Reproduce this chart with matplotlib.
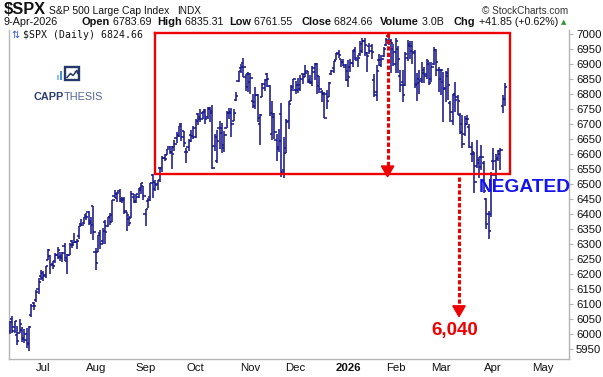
import matplotlib
matplotlib.use("Agg")
import matplotlib.pyplot as plt
import numpy as np
import pandas as pd
from matplotlib.collections import LineCollection
from matplotlib.patches import Rectangle, Polygon

# ---------------- data ----------------
holidays = ["2025-06-19", "2025-07-04", "2025-09-01", "2025-11-27", "2025-12-25",
            "2026-01-01", "2026-01-19", "2026-02-16", "2026-04-03"]

opens = [6009, 6049, 6010, 5997, 6005, 6012, 5987, 5999, 5970, 6062, 6105, 6112, 6151, 6194,
         6187, 6193, 6247, 6260, 6235, 6243, 6263, 6256, 6255, 6295, 6255, 6264, 6311, 6304, 6307, 6326, 6368, 6370, 6397, 6406, 6377, 6428,
         6272, 6272, 6336, 6309, 6375, 6359, 6389, 6398, 6461, 6454, 6478, 6445, 6446, 6407, 6384, 6387, 6458, 6445, 6457, 6486, 6492,
         6401, 6445, 6456, 6529, 6506, 6499, 6552, 6553, 6588, 6597, 6624, 6608, 6622, 6653, 6661, 6701, 6675, 6608, 6622, 6662, 6661,
         6656, 6732, 6722, 6735, 6746, 6723, 6751, 6744, 6626, 6578, 6686, 6687, 6619, 6687, 6737, 6740, 6711, 6780, 6842, 6886, 6904, 6858, 6868,
         6866, 6776, 6760, 6795, 6699, 6790, 6819, 6867, 6825, 6666, 6722, 6648, 6623, 6732, 6545, 6619, 6711, 6778, 6823,
         6813, 6830, 6816, 6866, 6867, 6876, 6841, 6837, 6873, 6900, 6859, 6805, 6803, 6801, 6791, 6865, 6885, 6914, 6935, 6916, 6908, 6889,
         6878, 6891, 6904, 6946, 6913, 6932, 6943, 6975, 6937, 6960, 6960, 6848, 6807, 6914, 6898, 6926, 6963, 6993, 6978, 6949,
         6900, 6950, 6860, 6840, 6830, 6920, 6960, 6960, 6935, 6830, 6850, 6850, 6870, 6865, 6900, 6850, 6900, 6945, 6880,
         6850, 6840, 6820, 6860, 6770, 6710, 6800, 6790, 6730, 6700, 6665, 6715, 6690, 6600, 6600, 6560, 6570, 6590, 6570, 6450, 6400, 6400,
         6575, 6530, 6585, 6600, 6760, 6783.69]
highs = [6043, 6059, 6045, 6026, 6051, 6024, 6018, 6019, 6026, 6101, 6108, 6146, 6187, 6215,
         6210, 6227, 6285, 6263, 6242, 6269, 6290, 6272, 6273, 6302, 6268, 6304, 6315, 6336, 6316, 6360, 6382, 6389, 6402, 6410, 6391, 6428,
         6288, 6330, 6346, 6352, 6379, 6390, 6402, 6446, 6481, 6473, 6482, 6458, 6456, 6407, 6394, 6478, 6467, 6467, 6488, 6503, 6494,
         6417, 6455, 6502, 6533, 6512, 6513, 6555, 6593, 6601, 6616, 6627, 6626, 6645, 6672, 6694, 6703, 6676, 6619, 6650, 6679, 6692,
         6718, 6737, 6750, 6744, 6749, 6756, 6756, 6764, 6665, 6680, 6711, 6704, 6677, 6744, 6752, 6752, 6750, 6807, 6877, 6899, 6920, 6867, 6872,
         6869, 6800, 6822, 6799, 6734, 6838, 6849, 6870, 6829, 6775, 6737, 6665, 6683, 6771, 6655, 6715, 6777, 6829, 6850,
         6844, 6852, 6862, 6867, 6895, 6878, 6862, 6893, 6903, 6902, 6860, 6814, 6807, 6812, 6841, 6881, 6910, 6935, 6945, 6917, 6917, 6901,
         6912, 6917, 6946, 6955, 6930, 6978, 6986, 6985, 6941, 6971, 6967, 6868, 6895, 6933, 6931, 6956, 6986, 7002, 6982, 6968,
         6985, 6960, 6880, 6880, 6940, 6980, 6975, 6975, 6945, 6870, 6880, 6905, 6890, 6915, 6905, 6905, 6955, 6950, 6890,
         6882, 6874, 6875, 6886, 6775, 6800, 6841, 6797, 6735, 6730, 6728, 6730, 6700, 6640, 6605, 6647, 6590, 6630, 6575, 6455, 6410, 6540,
         6620, 6600, 6612, 6620, 6795, 6835.31]
lows = [6000, 6003, 6003, 5964, 6004, 5975, 5971, 5953, 5943, 6058, 6081, 6107, 6133, 6180,
        6178, 6188, 6246, 6201, 6218, 6237, 6251, 6245, 6241, 6242, 6201, 6264, 6286, 6303, 6282, 6318, 6360, 6368, 6380, 6362, 6334, 6315,
        6212, 6272, 6285, 6301, 6300, 6357, 6364, 6372, 6453, 6441, 6441, 6437, 6400, 6343, 6361, 6386, 6438, 6437, 6453, 6468, 6448,
        6360, 6420, 6445, 6455, 6477, 6480, 6506, 6540, 6575, 6597, 6599, 6551, 6611, 6638, 6656, 6644, 6623, 6569, 6609, 6640, 6651,
        6652, 6698, 6707, 6715, 6699, 6716, 6705, 6550, 6610, 6569, 6618, 6603, 6606, 6686, 6717, 6658, 6709, 6778, 6839, 6869, 6856, 6811, 6805,
        6801, 6752, 6749, 6708, 6631, 6790, 6809, 6823, 6727, 6646, 6650, 6577, 6607, 6522, 6521, 6604, 6682, 6778, 6818,
        6800, 6803, 6810, 6832, 6858, 6835, 6834, 6827, 6845, 6801, 6802, 6772, 6719, 6749, 6789, 6862, 6871, 6912, 6921, 6890, 6893, 6844,
        6822, 6873, 6890, 6913, 6890, 6925, 6935, 6927, 6872, 6932, 6918, 6789, 6776, 6893, 6890, 6924, 6959, 6962, 6871, 6894,
        6870, 6869, 6808, 6774, 6825, 6910, 6915, 6900, 6819, 6775, 6800, 6838, 6836, 6850, 6830, 6840, 6895, 6860, 6808,
        6797, 6708, 6774, 6780, 6708, 6697, 6741, 6730, 6665, 6620, 6660, 6697, 6620, 6574, 6470, 6553, 6520, 6545, 6470, 6350, 6316, 6390,
        6545, 6513, 6575, 6547, 6735, 6761.55]
closes = [6039, 6022, 6045, 5977, 6033, 5983, 5981, 5968, 6025, 6092, 6092, 6141, 6173, 6205,
          6198, 6227, 6279, 6230, 6226, 6263, 6280, 6260, 6269, 6244, 6264, 6297, 6297, 6306, 6310, 6359, 6363, 6389, 6390, 6371, 6363, 6339,
          6238, 6330, 6299, 6345, 6340, 6389, 6373, 6446, 6467, 6469, 6450, 6449, 6411, 6396, 6370, 6467, 6439, 6466, 6481, 6502, 6460,
          6416, 6448, 6502, 6482, 6495, 6513, 6532, 6587, 6584, 6615, 6607, 6600, 6632, 6664, 6694, 6657, 6638, 6605, 6644, 6661, 6688,
          6711, 6715, 6716, 6740, 6715, 6754, 6735, 6553, 6655, 6644, 6671, 6629, 6664, 6735, 6735, 6699, 6738, 6792, 6875, 6891, 6891, 6822, 6840,
          6852, 6772, 6796, 6720, 6729, 6832, 6847, 6851, 6737, 6734, 6672, 6617, 6642, 6539, 6603, 6705, 6766, 6813, 6849,
          6813, 6829, 6850, 6857, 6870, 6847, 6841, 6887, 6901, 6827, 6817, 6800, 6721, 6775, 6835, 6878, 6910, 6932, 6930, 6906, 6896, 6846,
          6858, 6902, 6944, 6921, 6921, 6966, 6977, 6963, 6926, 6944, 6940, 6797, 6876, 6913, 6916, 6950, 6979, 6978, 6969, 6939,
          6976, 6917, 6830, 6798, 6932, 6965, 6942, 6941, 6833, 6836, 6843, 6881, 6861, 6910, 6837, 6890, 6946, 6908, 6879,
          6881, 6817, 6869, 6830, 6740, 6796, 6781, 6775, 6672, 6632, 6699, 6716, 6624, 6606, 6506, 6581, 6556, 6591, 6477, 6368, 6343, 6529,
          6575, 6582, 6611, 6612, 6782.81, 6824.66]

month_labels = ["Jul", "Aug", "Sep", "Oct", "Nov", "Dec", "2026", "Feb", "Mar", "Apr", "May"]
y_ticks = list(range(5950, 7001, 50))

resistance = 7003
support = 6532
target = 6040

# ---------------- calendar / positions ----------------
all_days = pd.bdate_range("2025-06-10", "2026-05-29")
all_days = all_days[~all_days.isin(pd.to_datetime(holidays))]
idx = np.arange(len(closes))
month_start = []
for k in range(1, len(all_days)):
    if all_days[k].month != all_days[k - 1].month:
        month_start.append(k)
month_pos = month_start[:len(month_labels)]

# ---------------- figure ----------------
W, H = 603, 377
fig = plt.figure(figsize=(W / 100, H / 100), dpi=100, facecolor="white")
ax = fig.add_axes([9 / W, (H - 359) / H, (569 - 9) / W, (359 - 30) / H])
ax.set_facecolor("white")
ax.set_xlim(-0.42, 234.8)
ax.set_ylim(5916.7, 7013.3)

bar_col = "#1a1a8c"
o = np.array(opens, float); h = np.array(highs, float)
l = np.array(lows, float); c = np.array(closes, float)
tick = 0.95
segs = []
for i in idx:
    segs.append([(i, l[i]), (i, h[i])])
    segs.append([(i - tick, o[i]), (i, o[i])])
    segs.append([(i, c[i]), (i + tick, c[i])])
ax.add_collection(LineCollection(segs, colors=bar_col, linewidths=1.15, capstyle="butt", zorder=3))

# axes styling
ax.spines["top"].set_visible(False)
for s in ["left", "right", "bottom"]:
    ax.spines[s].set_color("#b4b4b4")
    ax.spines[s].set_linewidth(1.0)
ax.yaxis.tick_right()
ax.set_yticks(y_ticks)
ax.set_yticklabels([str(v) for v in y_ticks], fontfamily="Liberation Sans", fontsize=8.2)
ax.tick_params(axis="y", length=3, color="#b4b4b4", pad=2, labelcolor="#111111")
ax.set_xticks(month_pos)
ax.set_xticklabels(month_labels, fontfamily="Liberation Sans", fontsize=8.2)
for lab in ax.get_xticklabels():
    if lab.get_text() == "2026":
        lab.set_fontweight("bold")
ax.tick_params(axis="x", length=0, pad=3, labelcolor="#111111")

# ---------------- annotations ----------------
red = "#ee0000"
box_left, box_right = 60.8, 210.0
ax.plot([box_left, box_right, box_right, box_left, box_left],
        [resistance, resistance, support, support, resistance],
        color=red, lw=1.7, zorder=4, solid_joinstyle="miter")

dash = (0, (1.4, 0.7))
ahw, ahh = 2.6, 36
xa1 = 158.6
tip1 = 6524
ax.plot([xa1, xa1], [resistance, tip1 + ahh], color=red, lw=2.2, ls=dash, zorder=5)
ax.add_patch(Polygon([(xa1 - ahw, tip1 + ahh), (xa1 + ahw, tip1 + ahh), (xa1, tip1)],
                     closed=True, color=red, zorder=5))
xa2 = 188.6
tip2 = 6058
ax.plot([xa2, xa2], [support - 8, tip2 + ahh], color=red, lw=2.2, ls=dash, zorder=5)
ax.add_patch(Polygon([(xa2 - ahw, tip2 + ahh), (xa2 + ahw, tip2 + ahh), (xa2, tip2)],
                     closed=True, color=red, zorder=5))
ax.text(187.0, 6013, f"{target:,}", color=red, fontsize=13.5, fontweight="bold",
        fontfamily="Liberation Sans", ha="center", va="center", zorder=6)
ax.text(197.0, 6487, "NEGATED", color="#1414ee", fontsize=13.8, fontweight="bold",
        fontfamily="Liberation Sans", ha="left", va="center", zorder=6, clip_on=False)

# ---------------- header / overlay (pixel coordinates) ----------------
ov = fig.add_axes([0, 0, 1, 1], zorder=10)
ov.set_xlim(0, W); ov.set_ylim(H, 0); ov.axis("off")
fam = "Liberation Sans"
fig.canvas.draw()
rend = fig.canvas.get_renderer()

def put(x, y, s, **kw):
    t = ov.text(x, y, s, va="baseline", fontfamily=kw.pop("family", fam), **kw)
    bb = t.get_window_extent(renderer=rend)
    return x + bb.width

x_end = put(4, 14, "$SPX", fontsize=11.8, fontweight="bold", color="#111111")
put(x_end + 3, 14, "S&P 500 Large Cap Index", fontsize=7.5, color="#111111")
put(177, 14, "INDX", fontsize=7.2, color="#111111")
ov.text(568, 14, "\u00a9 StockCharts.com", fontsize=7.2, color="#333333", ha="right",
        va="baseline", fontfamily=fam)

put(4, 25, "9-Apr-2026", fontsize=7.8, color="#111111")
items = [(82, "Open", " 6783.69"), (157, "High", " 6835.31"), (229, "Low", " 6761.55"),
         (301, "Close", " 6824.66"), (380, "Volume", " 3.0B"), (454, "Chg", " +41.85 (+0.62%)")]
for x0, lab, val in items:
    x1 = put(x0, 25, lab, fontsize=7.9, fontweight="bold", color="#111111")
    put(x1, 25, val, fontsize=7.7, color="#111111")
ov.text(561, 24.5, "\u25b2", fontsize=5, color="#2a9a2a", va="baseline", fontfamily="DejaVu Sans")

# inside-chart title
ov.text(11, 38, "\u21c5", fontsize=7, color="#3a5fcd", va="baseline", fontfamily="DejaVu Sans")
put(23, 38, "$SPX (Daily) 6824.66", fontsize=7.1, color="#111111", family="DejaVu Sans Mono")

# CAPPTHESIS logo
ov.add_patch(Rectangle((56.7, 74.5), 2.3, 5.5, color="#8fc1e8", lw=0))
ov.add_patch(Rectangle((60.0, 71.0), 2.3, 9.0, color="#4a8fd0", lw=0))
ov.add_patch(Rectangle((64.8, 67.2), 14.0, 12.6, fill=False, ec="#24386b", lw=1.7))
ov.plot([67, 70.5, 73, 77], [77.5, 73.5, 75.5, 70.5], color="#24386b", lw=1.1)
ov.plot([75, 77, 77], [70.5, 70.5, 72.5], color="#24386b", lw=1.0)
x1 = put(33, 100.5, "CAPP", fontsize=7.8, fontweight="bold", color="#2b3d6e")
put(x1, 100.5, "THESIS", fontsize=7.8, color="#4f6598")

fig.savefig("out.png", dpi=100, facecolor="white")
